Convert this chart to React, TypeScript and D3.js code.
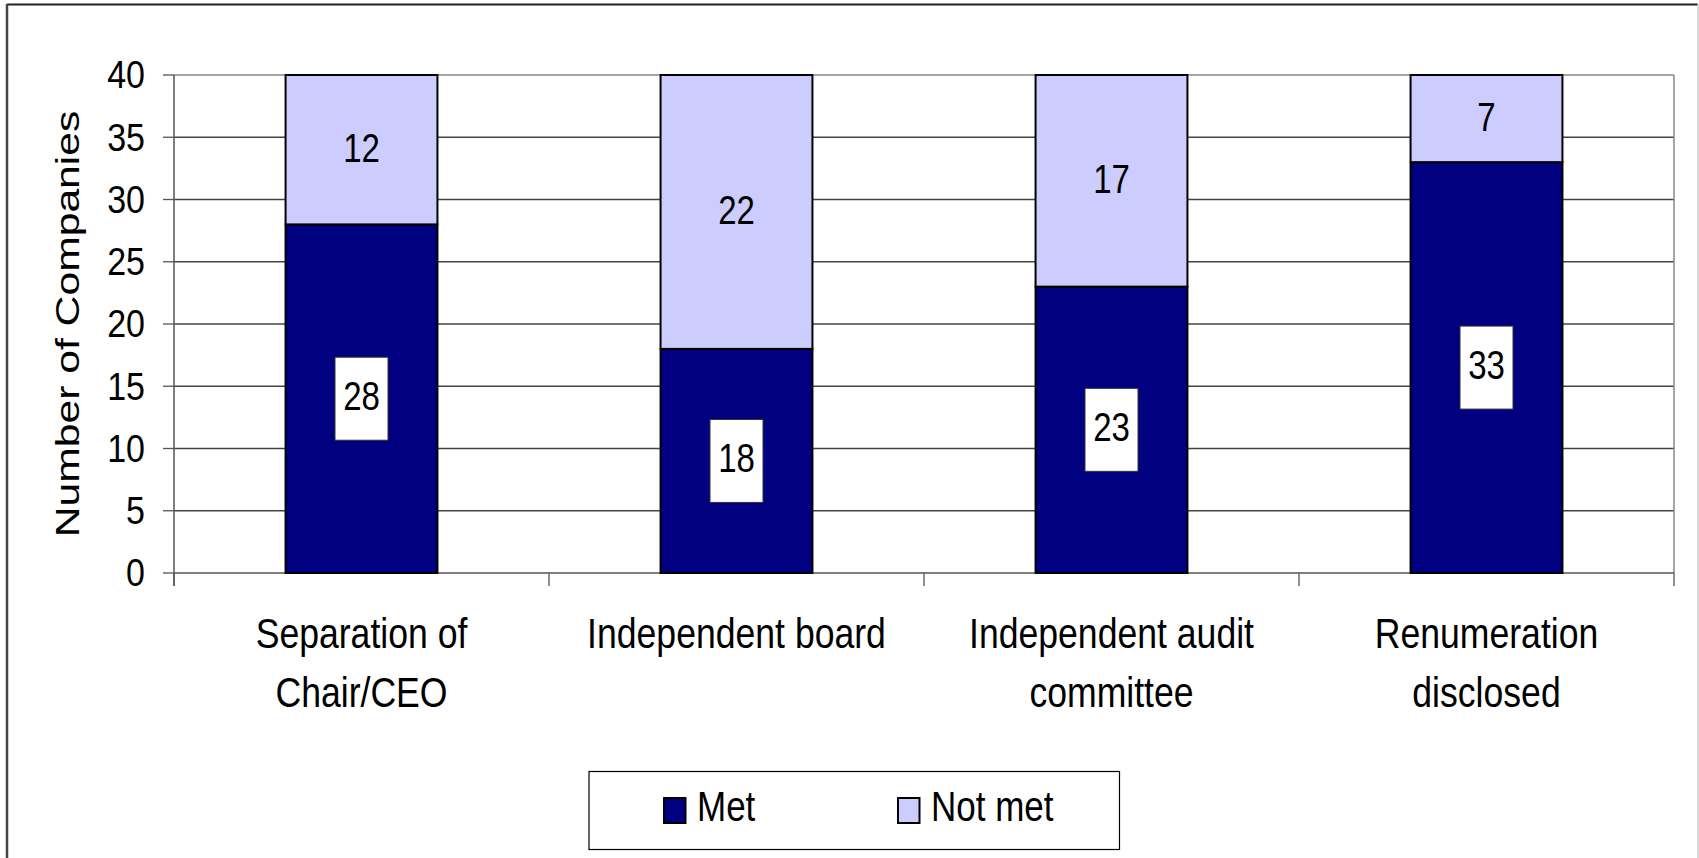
import React from "react";
import * as d3 from "d3";

const categories = ["Separation of Chair/CEO", "Independent board", "Independent audit committee", "Renumeration disclosed"];
const categoryLines = [["Separation of", "Chair/CEO"], ["Independent board"], ["Independent audit", "committee"], ["Renumeration", "disclosed"]];
const metValues = [28, 18, 23, 33];
const notMetValues = [12, 22, 17, 7];
const yTicks = [0, 5, 10, 15, 20, 25, 30, 35, 40];
const seriesNames = ["Met", "Not met"];
const seriesColors = ["#000080", "#CCCCFF"];

const W = 1699;
const H = 858;
const plot = { left: 174, right: 1674, top: 75, bottom: 573 };
const FONT = "'Liberation Sans', Arial, Helvetica, sans-serif";

export default function App() {
  const x = d3.scaleBand<string>().domain(categories).range([plot.left, plot.right]).padding(0);
  const y = d3.scaleLinear().domain([0, 40]).range([plot.bottom, plot.top]);
  const barW = x.bandwidth() * 0.405;

  const stackData = categories.map((c, i) => ({ cat: c, Met: metValues[i], "Not met": notMetValues[i] }));
  const stack = d3.stack<any>().keys(seriesNames)(stackData);

  const st = (sx: number, sy: number, tx: number, ty: number) => `translate(${tx},${ty}) scale(${sx},${sy})`;

  return (
    <svg width={W} height={H} style={{ position: "absolute", left: 0, top: 0, background: "#fff" }} fontFamily={FONT}>
      <rect x={0} y={0} width={W} height={H} fill="#fff" />
      {/* outer chart frame */}
      <line x1={7} y1={4.5} x2={1698} y2={4.5} stroke="#222" strokeWidth={2} />
      <line x1={7} y1={4} x2={7} y2={H} stroke="#444" strokeWidth={2.5} />
      <line x1={1698} y1={4} x2={1698} y2={H} stroke="#ccc" strokeWidth={1.5} />

      {/* gridlines */}
      {yTicks.filter((t) => t > 0).map((t) => (
        <line key={"g" + t} x1={plot.left} x2={plot.right} y1={y(t)} y2={y(t)} stroke={t === 40 ? "#888" : "#444"} strokeWidth={1.3} />
      ))}
      {/* plot right border */}
      <line x1={plot.right} x2={plot.right} y1={plot.top} y2={plot.bottom} stroke="#888" strokeWidth={1.5} />

      {/* y axis */}
      <line x1={plot.left} x2={plot.left} y1={plot.top} y2={plot.bottom + 13} stroke="#555" strokeWidth={1.5} />
      {yTicks.map((t) => (
        <g key={"yt" + t}>
          <line x1={plot.left - 11} x2={plot.left} y1={y(t)} y2={y(t)} stroke="#555" strokeWidth={1.3} />
          <text transform={st(1, 1.15, 145, y(t) + 13.3)} textAnchor="end" fontSize={34} fill="#000">
            {t}
          </text>
        </g>
      ))}

      {/* x axis */}
      <line x1={plot.left} x2={plot.right} y1={plot.bottom} y2={plot.bottom} stroke="#555" strokeWidth={1.5} />
      {d3.range(categories.length + 1).map((i) => {
        const xx = plot.left + i * x.step();
        return <line key={"xt" + i} x1={xx} x2={xx} y1={plot.bottom} y2={plot.bottom + 13} stroke="#555" strokeWidth={1.3} />;
      })}

      {/* bars */}
      {stack.map((s, si) => (
        <g key={"s" + si}>
          {s.map((d, i) => {
            const cx = (x(categories[i]) as number) + x.bandwidth() / 2;
            return (
              <rect
                key={i}
                x={cx - barW / 2}
                y={y(d[1])}
                width={barW}
                height={y(d[0]) - y(d[1])}
                fill={seriesColors[si]}
                stroke="#000"
                strokeWidth={2}
              />
            );
          })}
        </g>
      ))}

      {/* data labels */}
      {stack.map((s, si) => (
        <g key={"l" + si}>
          {s.map((d, i) => {
            const cx = (x(categories[i]) as number) + x.bandwidth() / 2;
            const cy = y((d[0] + d[1]) / 2);
            const v = d[1] - d[0];
            return (
              <g key={i}>
                {si === 0 && (
                  <rect x={cx - 26.5} y={cy - 41.5} width={53} height={83} fill="#fff" stroke="#333" strokeWidth={1} />
                )}
                <text transform={st(1, 1.25, cx, cy + (si === 0 ? 11 : 12))} textAnchor="middle" fontSize={33} fill="#000">
                  {v}
                </text>
              </g>
            );
          })}
        </g>
      ))}

      {/* category labels */}
      {categoryLines.map((lines, i) => {
        const cx = (x(categories[i]) as number) + x.bandwidth() / 2;
        return lines.map((ln, li) => (
          <text key={i + "-" + li} transform={st(1, 1.18, cx, 648 + li * 58.7)} textAnchor="middle" fontSize={35.6} fill="#000">
            {ln}
          </text>
        ));
      })}

      {/* y axis title */}
      <text transform={`translate(79,324) scale(1,1.255) rotate(-90)`} textAnchor="middle" fontSize={34} fill="#000">
        Number of Companies
      </text>

      {/* legend */}
      <rect x={589} y={771.5} width={530.5} height={78} fill="#fff" stroke="#000" strokeWidth={1.2} />
      {seriesNames.map((n, i) => {
        const mx = i === 0 ? 664 : 898;
        return (
          <g key={"lg" + i}>
            <rect x={mx} y={798} width={21.5} height={25} fill={seriesColors[i]} stroke="#000" strokeWidth={2} />
            <text transform={st(1, 1.24, mx + 33, 821)} fontSize={35} fill="#000">
              {n}
            </text>
          </g>
        );
      })}
    </svg>
  );
}
